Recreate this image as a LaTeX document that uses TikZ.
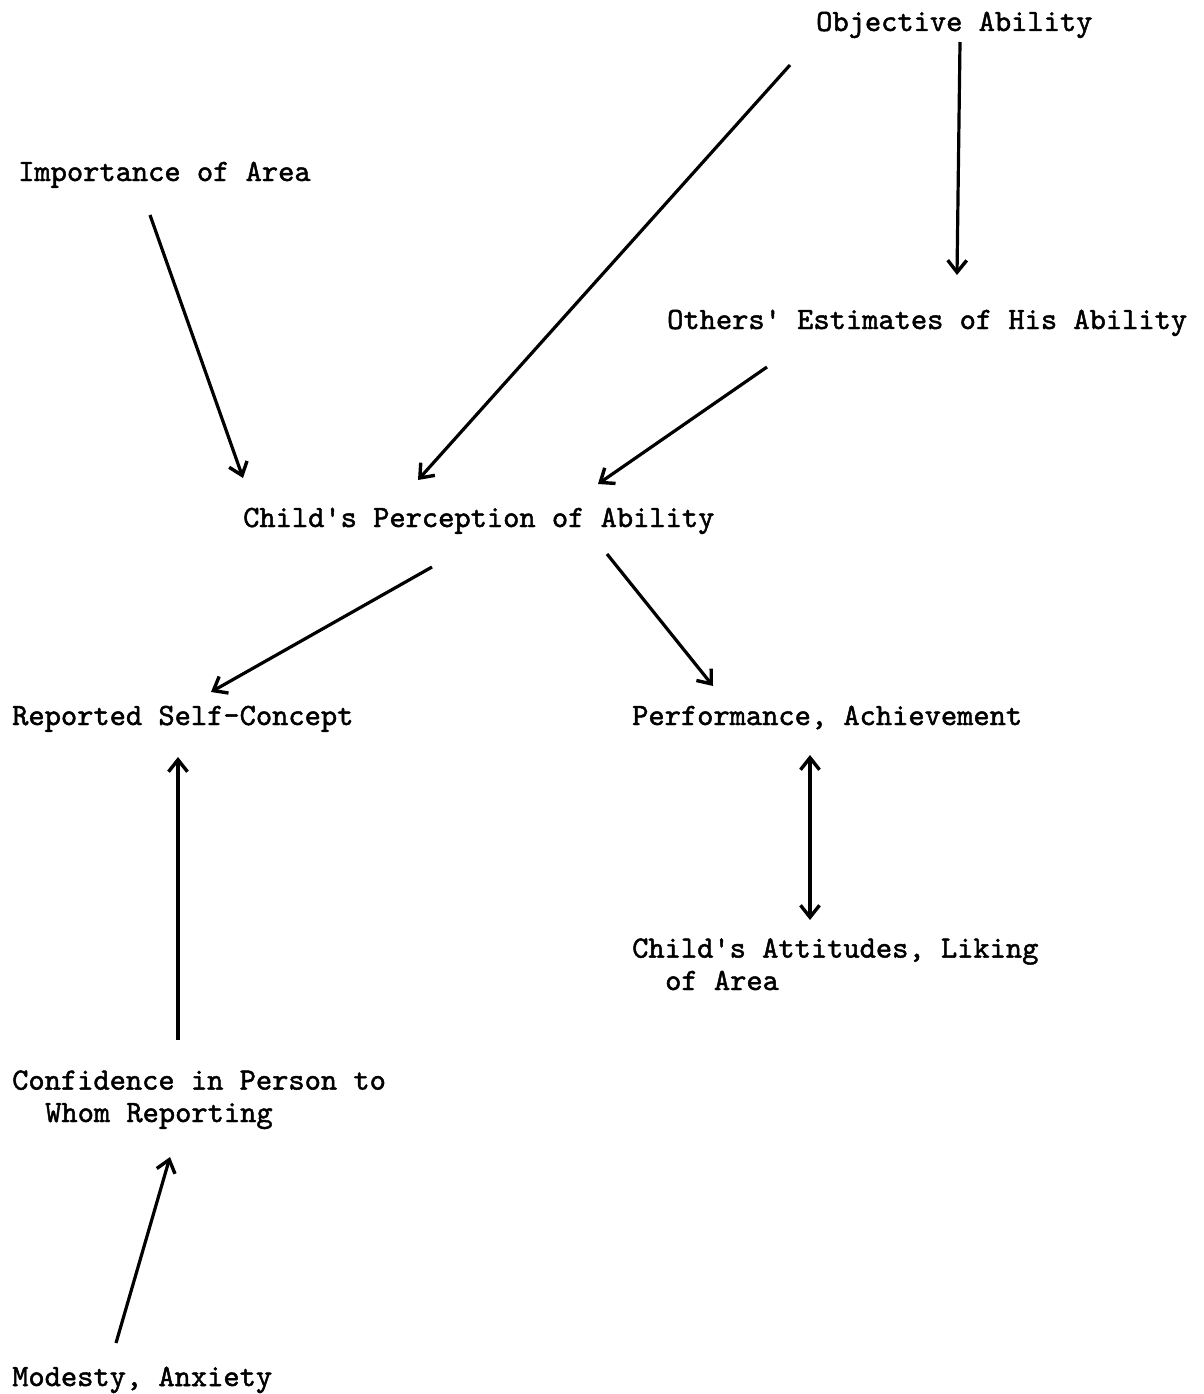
\documentclass[tikz,border=0pt]{standalone}
\usepackage{fontspec}
\usetikzlibrary{arrows.meta}

\newfontfamily\typefont{lmmono10-regular.otf}[FakeBold=1.5]
\newcommand{\indtwo}{\hspace*{33pt}}

\begin{document}
\begin{tikzpicture}[
    x={(1pt,0)}, y={(0,-1pt)},
    factor/.style={anchor=base west, inner sep=0pt, align=left,
      font=\typefont\fontsize{30.95}{32.4}\selectfont},
    causal/.style={-{Straight Barb[length=12pt,width=19pt,line width=3.4pt]}, line width=3.2pt},
    mutual/.style={{Straight Barb[length=12pt,width=19pt,line width=3.4pt]}-{Straight Barb[length=12pt,width=19pt,line width=3.4pt]}, line width=3.2pt}
]
\useasboundingbox (0,0) rectangle (1203,1394);

% Factors
\node[factor] (obj) at (816,31) {Objective Ability};
\node[factor] (imp) at (18,181) {Importance of Area};
\node[factor] (oth) at (667,329) {Others' Estimates of His Ability};
\node[factor] (cp) at (243,527) {Child's Perception of Ability};
\node[factor] (rsc) at (12,725) {Reported Self-Concept};
\node[factor] (perf) at (632,725) {Performance, Achievement};
\node[factor] (att) at (632,990) {Child's Attitudes, Liking\\\indtwo of Area};
\node[factor] (conf) at (12,1122) {Confidence in Person to\\\indtwo Whom Reporting};
\node[factor] (mod) at (12,1386) {Modesty, Anxiety};

% Influences
\draw[causal] ([shift={(144,11)}]obj.base west) -- ([shift={(290,-54)}]oth.base west);
\draw[causal] ([shift={(-26,34)}]obj.base west) -- ([shift={(175,-47)}]cp.base west);
\draw[causal] ([shift={(132,34)}]imp.base west) -- ([shift={(0,-49)}]cp.base west);
\draw[causal] ([shift={(100,38)}]oth.base west) -- ([shift={(355,-43)}]cp.base west);
\draw[causal] ([shift={(189,40)}]cp.base west) -- ([shift={(199,-33)}]rsc.base west);
\draw[causal] ([shift={(364,27)}]cp.base west) -- ([shift={(81,-39)}]perf.base west);
\draw[mutual] ([shift={(178,30)}]perf.base west) -- ([shift={(178,-70)}]att.base west);
\draw[causal] ([shift={(166,-82)}]conf.base west) -- ([shift={(166,32)}]rsc.base west);
\draw[causal] ([shift={(104,-43)}]mod.base west) -- ([shift={(158,35)}]conf.base west);

\end{tikzpicture}
\end{document}
